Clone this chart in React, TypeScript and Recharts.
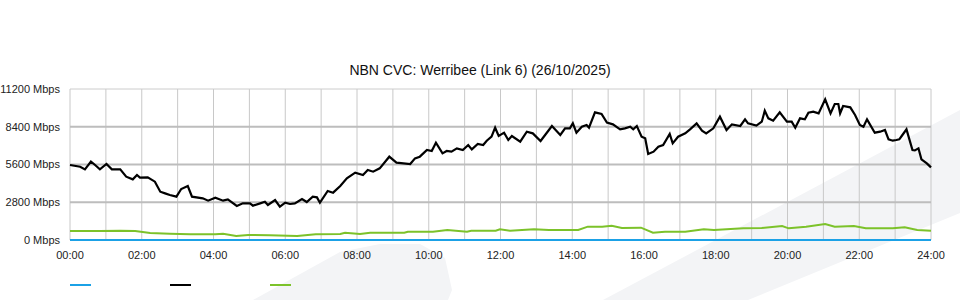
import React from "react";
import { LineChart, Line, XAxis, YAxis, ReferenceLine } from "recharts";

const chartTitle = "NBN CVC: Werribee (Link 6) (26/10/2025)";

// minutes since midnight
const trafficTimes = [
  0, 17, 25, 35, 42, 50, 61, 70, 84, 94, 105, 112, 117, 130, 142, 151, 159, 167, 178, 186,
  197, 204, 222, 231, 243, 256, 264, 279, 289, 301, 306, 318, 326, 331, 343, 351, 360, 368, 376, 388,
  396, 406, 413, 418, 431, 440, 452, 463, 477, 490, 498, 507, 518, 534, 546, 569, 577, 585, 597, 605,
  612, 623, 630, 638, 647, 657, 666, 672, 682, 691, 697, 705, 711, 717, 726, 733, 739, 753, 764, 774,
  787, 806, 820, 828, 836, 841, 847, 856, 864, 868, 878, 889, 898, 908, 920, 928, 937, 942, 948, 956,
  962, 967, 976, 984, 992, 1003, 1008, 1017, 1029, 1037, 1048, 1057, 1064, 1076, 1087, 1098, 1107, 1121, 1129, 1134,
  1148, 1157, 1162, 1168, 1176, 1187, 1199, 1207, 1213, 1221, 1229, 1235, 1243, 1252, 1263, 1272, 1279, 1285, 1288, 1293,
  1305, 1313, 1321, 1327, 1333, 1346, 1355, 1363, 1369, 1376, 1382, 1387, 1391, 1399, 1409, 1413, 1419, 1424, 1433, 1440,
];
const trafficMbps = [
  5563, 5437, 5240, 5810, 5563, 5240, 5637, 5240, 5240, 4697, 4500, 4821, 4623, 4647, 4326, 3585, 3461, 3337, 3214, 3783,
  4005, 3214, 3090, 2917, 3140, 2917, 3016, 2522, 2720, 2720, 2547, 2720, 2843, 2596, 2967, 2472, 2769, 2670, 2720, 3041,
  2818, 3214, 3164, 2769, 3634, 3510, 4005, 4573, 4994, 4821, 5192, 5067, 5316, 6180, 5735, 5637, 6057, 6180, 6675, 6601,
  7217, 6428, 6601, 6552, 6799, 6675, 7046, 6725, 7120, 7046, 7366, 7662, 8330, 7713, 7960, 7417, 7713, 7292, 8033, 7910,
  7342, 8455, 7788, 8282, 8282, 8652, 7960, 8405, 8529, 8330, 9467, 9343, 8702, 8578, 8208, 8282, 8405, 8208, 8455, 7662,
  7540, 6378, 6551, 6922, 7046, 7862, 7169, 7662, 7910, 8208, 8652, 8106, 7910, 8282, 9145, 8158, 8578, 8455, 8948, 8652,
  8480, 8775, 9590, 9022, 8850, 9467, 8775, 8775, 8330, 9022, 8948, 9442, 9516, 9393, 10435, 9393, 10087, 10087, 9393, 9939,
  9840, 9271, 8529, 8405, 8948, 7960, 8033, 8158, 7466, 7366, 7417, 7466, 7713, 8208, 6675, 6650, 6799, 5983, 5686, 5390,
];

const greenTimes = [
  0, 50, 84, 109, 134, 167, 201, 243, 256, 278, 298, 334, 380, 411, 452, 460, 485, 502, 559, 565,
  607, 631, 664, 671, 712, 719, 736, 776, 801, 850, 866, 890, 906, 923, 955, 975, 995, 1029, 1060, 1077,
  1126, 1157, 1191, 1202, 1231, 1263, 1279, 1311, 1331, 1353, 1376, 1396, 1417, 1440,
];
const greenMbps = [
  667, 667, 690, 667, 520, 470, 420, 420, 470, 300, 370, 350, 300, 420, 450, 544, 450, 544, 544, 618,
  618, 742, 618, 692, 692, 791, 692, 791, 742, 742, 989, 989, 1063, 890, 915, 544, 618, 618, 791, 742,
  865, 890, 1038, 865, 989, 1187, 989, 1038, 865, 865, 865, 940, 742, 692,
];

const blueTimes = [0, 1440];
const blueMbps = [0, 0];

const yTicks = [0, 2800, 5600, 8400, 11200];
const xTicks = [0, 120, 240, 360, 480, 600, 720, 840, 960, 1080, 1200, 1320, 1440];
const xTickLabels = ["00:00", "02:00", "04:00", "06:00", "08:00", "10:00", "12:00", "14:00", "16:00", "18:00", "20:00", "22:00", "24:00"];
const hourLines = [0, 60, 120, 180, 240, 300, 360, 420, 480, 540, 600, 660, 720, 780, 840, 900, 960, 1020, 1080, 1140, 1200, 1260, 1320, 1380, 1440];

const series = [
  { key: "blue", color: "#1ba1e6", width: 2, times: blueTimes, values: blueMbps },
  { key: "traffic", color: "#000000", width: 2.2, times: trafficTimes, values: trafficMbps },
  { key: "green", color: "#7cc22a", width: 2, times: greenTimes, values: greenMbps },
];

const toData = (times: number[], values: number[]) => times.map((t, i) => ({ t, v: values[i] }));

const FONT = '"Liberation Sans", Arial, sans-serif';

const YTick = (props: any) => {
  const { x, y, payload } = props;
  return (
    <text x={x} y={y} dy="0.35em" textAnchor="end" fontSize={11} fill="#222" fontFamily={FONT}>
      {`${payload.value} Mbps`}
    </text>
  );
};

const XTick = (props: any) => {
  const { x, y, payload } = props;
  return (
    <text x={x} y={y} dy="0.71em" textAnchor="middle" fontSize={11} fill="#222" fontFamily={FONT}>
      {xTickLabels[xTicks.indexOf(payload.value)]}
    </text>
  );
};

export default function App() {
  return (
    <div style={{ position: "absolute", left: 0, top: 0, width: 960, height: 300, background: "#fff", fontFamily: FONT, overflow: "hidden" }}>
      <svg width={960} height={300} style={{ position: "absolute", left: 0, top: 0 }}>
        <polygon points="253,300 340,252 380,244 420,244 445,258 452,290 448,300" fill="#f3f4f6" />
        <polygon points="603,300 960,110 960,213 748,300" fill="#f3f4f6" />
      </svg>
      <div style={{ position: "absolute", left: 0, top: 62, width: 960, textAlign: "center", fontSize: 14, color: "#111", lineHeight: "16px" }}>
        {chartTitle}
      </div>
      <div style={{ position: "absolute", left: 0, top: 0 }}>
        <LineChart width={960} height={300} margin={{ top: 89, right: 29, bottom: 30, left: 8 }} style={{ fontFamily: FONT }}>
          <XAxis
            dataKey="t"
            type="number"
            domain={[0, 1440]}
            ticks={xTicks}
            axisLine={false}
            tickLine={false}
            tickSize={0}
            tickMargin={11}
            height={30}
            interval={0}
            allowDuplicatedCategory={false}
            tick={<XTick />}
          />
          <YAxis
            type="number"
            domain={[0, 11200]}
            ticks={yTicks}
            axisLine={false}
            tickLine={false}
            tickSize={0}
            tickMargin={10}
            width={62}
            interval={0}
            tick={<YTick />}
          />
          {hourLines.map((h) => (
            <ReferenceLine key={"h" + h} x={h} stroke="#c8c8c8" strokeWidth={1} ifOverflow="extendDomain" />
          ))}
          {yTicks.map((y) => (
            <ReferenceLine
              key={"y" + y}
              y={y}
              stroke={y === 11200 ? "#cccccc" : "#bdbdbd"}
              strokeWidth={y === 11200 ? 1 : 2}
              ifOverflow="extendDomain"
            />
          ))}
          {series.map((s) => (
            <Line
              key={s.key}
              data={toData(s.times, s.values)}
              dataKey="v"
              type="linear"
              stroke={s.color}
              strokeWidth={s.width}
              dot={false}
              activeDot={false}
              isAnimationActive={false}
            />
          ))}
        </LineChart>
      </div>
      {series.map((s, i) => (
        <div
          key={"lg" + s.key}
          style={{ position: "absolute", left: 70 + i * 100, top: 284, width: 21, height: 2, background: s.color }}
        />
      ))}
    </div>
  );
}
